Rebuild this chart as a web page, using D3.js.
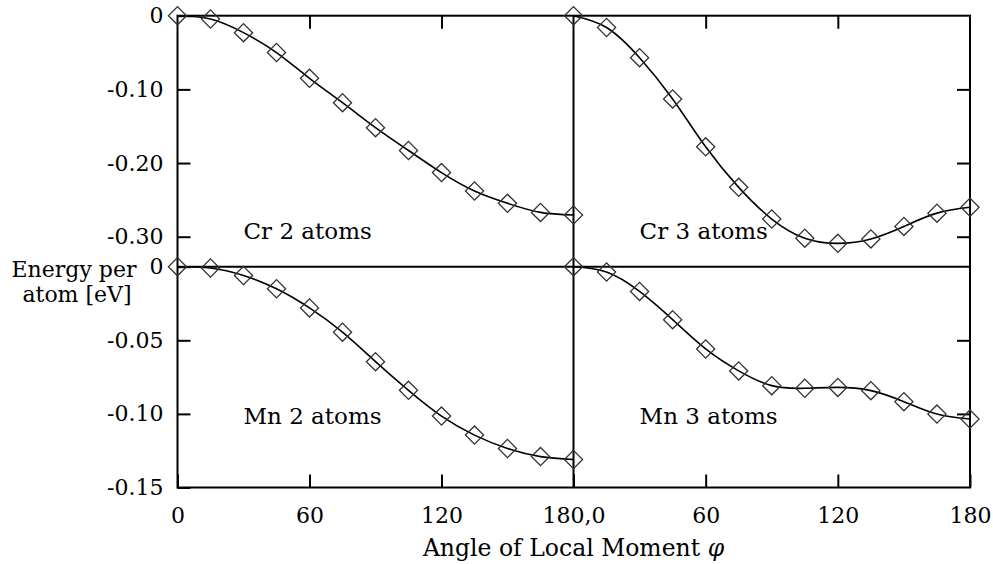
<!DOCTYPE html>
<html>
<head>
<meta charset="utf-8">
<script src="https://cdn.jsdelivr.net/npm/d3@7"></script>
<style>
  body { margin: 0; background: #fff; }
  svg { display: block; }
</style>
</head>
<body>
<svg id="chart"></svg>
<script>
// angle of local moment (degrees), same for all panels
const angles = [0, 15, 30, 45, 60, 75, 90, 105, 120, 135, 150, 165, 180];

// energy per atom [eV]
const cr2Energy = [0, -0.0045, -0.023, -0.050, -0.085, -0.118, -0.152, -0.183, -0.213, -0.238, -0.2547, -0.267, -0.2705];
const cr3Energy = [0, -0.016, -0.057, -0.113, -0.178, -0.233, -0.276, -0.302, -0.309, -0.303, -0.286, -0.268, -0.260];
const mn2Energy = [0, -0.0009, -0.006, -0.015, -0.028, -0.0445, -0.0645, -0.084, -0.1015, -0.1144, -0.1235, -0.129, -0.131];
const mn3Energy = [0, -0.0036, -0.0168, -0.036, -0.0559, -0.0708, -0.0808, -0.0826, -0.0820, -0.0842, -0.0917, -0.1001, -0.1035];

// ticks and labels
const topYTicks = [0, -0.1, -0.2, -0.3];
const topYLabels = ["0", "-0.10", "-0.20", "-0.30"];
const bottomYTicks = [0, -0.05, -0.1, -0.15];
const bottomYLabels = ["0", "-0.05", "-0.10", "-0.15"];
const xTicks = [0, 60, 120, 180];
const xLabelsLeft = ["0", "60", "120", "180,0"];
const xLabelsRight = ["", "60", "120", "180"];

const W = 993, H = 564;
const svg = d3.select("#chart").attr("width", W).attr("height", H)
    .attr("font-family", "DejaVu Serif, serif");

const plotLeft = 177.5, plotMid = 573.5, plotRight = 970;
const plotTop = 15.7, plotHMid = 266.7, plotBottom = 487.5;
const fs = 23;      // labels inside panels, titles
const tickFs = 22;  // tick numbers
const font = "DejaVu Serif, serif";

const xLeft = d3.scaleLinear().domain([0, 180]).range([plotLeft, plotMid]);
const xRight = d3.scaleLinear().domain([0, 180]).range([plotMid, plotRight]);
const yTop = d3.scaleLinear().domain([0, -0.3407]).range([plotTop, plotHMid]);
const yBot = d3.scaleLinear().domain([0, -0.15]).range([plotHMid, plotBottom]);

function styleAxis(g) {
    g.select(".domain").remove();
    g.selectAll(".tick line").attr("stroke", "#000").attr("stroke-width", 2);
    g.selectAll("text")
        .attr("font-family", font)
        .attr("font-size", tickFs)
        .attr("fill", "#000");
    g.attr("font-family", null).attr("font-size", null);
}

// y axes, left side with labels
svg.append("g").attr("transform", `translate(${plotLeft},0)`)
    .call(d3.axisLeft(yTop).tickValues(topYTicks).tickSize(-13).tickPadding(14)
        .tickFormat((d, i) => topYLabels[i]))
    .call(styleAxis);
svg.append("g").attr("transform", `translate(${plotLeft},0)`)
    .call(d3.axisLeft(yBot).tickValues(bottomYTicks).tickSize(-13).tickPadding(14)
        .tickFormat((d, i) => bottomYLabels[i]))
    .call(styleAxis);

// y ticks on the right edge
svg.append("g").attr("transform", `translate(${plotRight},0)`)
    .call(d3.axisRight(yTop).tickValues(topYTicks.slice(1)).tickSize(-13).tickFormat(""))
    .call(styleAxis);
svg.append("g").attr("transform", `translate(${plotRight},0)`)
    .call(d3.axisRight(yBot).tickValues(bottomYTicks.slice(1, 3)).tickSize(-13).tickFormat(""))
    .call(styleAxis);

// x axes, bottom with labels
svg.append("g").attr("transform", `translate(0,${plotBottom})`)
    .call(d3.axisBottom(xLeft).tickValues(xTicks).tickSize(-13).tickPadding(19.5)
        .tickFormat((d, i) => xLabelsLeft[i]))
    .call(styleAxis);
svg.append("g").attr("transform", `translate(0,${plotBottom})`)
    .call(d3.axisBottom(xRight).tickValues(xTicks).tickSize(-13).tickPadding(19.5)
        .tickFormat((d, i) => xLabelsRight[i]))
    .call(styleAxis);

// x ticks on top edge
[xLeft, xRight].forEach(x => {
    svg.append("g").attr("transform", `translate(0,${plotTop})`)
        .call(d3.axisTop(x).tickValues(xTicks.slice(1, 3)).tickSize(-13).tickFormat(""))
        .call(styleAxis);
});

// frame
svg.append("rect")
    .attr("x", plotLeft).attr("y", plotTop)
    .attr("width", plotRight - plotLeft).attr("height", plotBottom - plotTop)
    .attr("fill", "none").attr("stroke", "#000").attr("stroke-width", 2);
svg.append("line").attr("x1", plotMid).attr("x2", plotMid).attr("y1", plotTop).attr("y2", plotBottom)
    .attr("stroke", "#000").attr("stroke-width", 2);
svg.append("line").attr("x1", plotLeft).attr("x2", plotRight).attr("y1", plotHMid).attr("y2", plotHMid)
    .attr("stroke", "#000").attr("stroke-width", 2);

const panels = [
    { x: xLeft, y: yTop, vals: cr2Energy, name: "Cr 2 atoms", ly: 239 },
    { x: xRight, y: yTop, vals: cr3Energy, name: "Cr 3 atoms", ly: 239 },
    { x: xLeft, y: yBot, vals: mn2Energy, name: "Mn 2 atoms", ly: 423.5 },
    { x: xRight, y: yBot, vals: mn3Energy, name: "Mn 3 atoms", ly: 423.5 }
];

const diamond = d3.symbol().type(d3.symbolSquare).size(165);

panels.forEach(p => {
    const pts = angles.map((a, i) => [a, p.vals[i]]);
    const line = d3.line()
        .x(d => p.x(d[0]))
        .y(d => p.y(d[1]))
        .curve(d3.curveNatural);

    svg.append("path")
        .datum(pts)
        .attr("d", line)
        .attr("fill", "none")
        .attr("stroke", "#000")
        .attr("stroke-width", 1.6);

    svg.append("g").selectAll("path")
        .data(pts)
        .join("path")
        .attr("d", diamond)
        .attr("transform", d => `translate(${p.x(d[0])},${p.y(d[1])}) rotate(45)`)
        .attr("fill", "none")
        .attr("stroke", "#333")
        .attr("stroke-width", 1.3);

    svg.append("text")
        .attr("x", p.x(30))
        .attr("y", p.ly)
        .attr("font-size", fs)
        .text(p.name);
});

// axis titles
svg.append("text")
    .attr("x", 74).attr("y", 276.5)
    .attr("text-anchor", "middle")
    .attr("font-size", 22)
    .text("Energy per");
svg.append("text")
    .attr("x", 77).attr("y", 302)
    .attr("text-anchor", "middle")
    .attr("font-size", 22)
    .text("atom [eV]");

const xt = svg.append("text")
    .attr("x", plotMid).attr("y", 556)
    .attr("text-anchor", "middle")
    .attr("font-size", 23.5);
xt.append("tspan").text("Angle of Local Moment ");
xt.append("tspan").attr("font-style", "italic").text("φ");
</script>
</body>
</html>
